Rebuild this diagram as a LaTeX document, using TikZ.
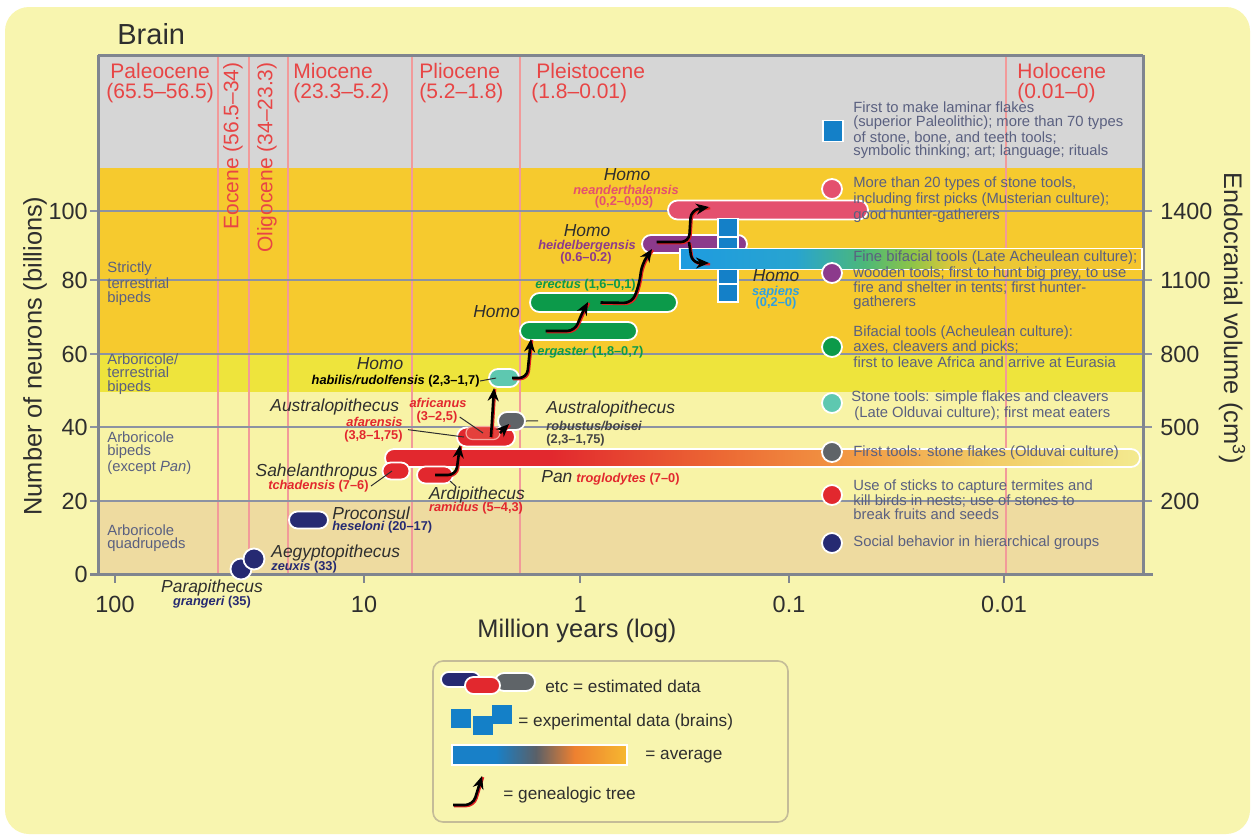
\documentclass[tikz,border=0pt]{standalone}
\usepackage{fontspec}
\setmainfont{Liberation Sans}
\usetikzlibrary{shapes.misc,arrows.meta}
\definecolor{panel}{HTML}{F8F5AF}
\definecolor{topgray}{HTML}{D6D6D6}
\definecolor{bandorange}{HTML}{F6CA2E}
\definecolor{bandyellow}{HTML}{EEE43C}
\definecolor{bandpale}{HTML}{F8F3A6}
\definecolor{bandtan}{HTML}{EEDBA0}
\definecolor{epochred}{HTML}{E84545}
\definecolor{epochline}{HTML}{F29A9A}
\definecolor{gridc}{HTML}{8C92A2}
\definecolor{axisc}{HTML}{80858F}
\definecolor{desctxt}{HTML}{5A6080}
\definecolor{cnavy}{HTML}{262A72}
\definecolor{cred}{HTML}{E2282E}
\definecolor{credlight}{HTML}{E4403C}
\definecolor{credline}{HTML}{F4A8A0}
\definecolor{cgray}{HTML}{5F6468}
\definecolor{cteal}{HTML}{5EC8B0}
\definecolor{cgreen}{HTML}{0C9A4A}
\definecolor{cpurple}{HTML}{8C3A8C}
\definecolor{cpink}{HTML}{E4506E}
\definecolor{cblue}{HTML}{1480C8}
\definecolor{csky}{HTML}{30A0E0}
\definecolor{txtdark}{HTML}{2E2E2E}
\definecolor{txtgray}{HTML}{444444}
\definecolor{shadowred}{HTML}{E02020}
\definecolor{legborder}{HTML}{C4BC98}
\definecolor{panA}{HTML}{E2282E}
\definecolor{panB}{HTML}{EC6A34}
\definecolor{panC}{HTML}{F29A44}
\definecolor{panD}{HTML}{F2CC66}
\definecolor{panE}{HTML}{F3EA90}
\definecolor{sapA}{HTML}{1E9BE0}
\definecolor{sapB}{HTML}{28A4D0}
\definecolor{sapC}{HTML}{4CB878}
\definecolor{sapD}{HTML}{8CC448}
\definecolor{sapE}{HTML}{E8C838}
\definecolor{sapF}{HTML}{F5C52E}
\definecolor{avgA}{HTML}{1880C8}
\definecolor{avgC}{HTML}{5A6068}
\definecolor{avgD}{HTML}{EE8030}
\definecolor{avgE}{HTML}{F6B830}
\pgfdeclarehorizontalshading{panshade}{100bp}{color(0bp)=(panA); color(25bp)=(panA); color(36bp)=(panA); color(47.5bp)=(panB); color(56bp)=(panC); color(65bp)=(panD); color(75bp)=(panE); color(100bp)=(panE)}
\pgfdeclarehorizontalshading{sapshade}{100bp}{color(0bp)=(sapA); color(25bp)=(sapA); color(37.5bp)=(sapB); color(45bp)=(sapC); color(50bp)=(sapD); color(55bp)=(sapE); color(75bp)=(sapF); color(100bp)=(sapF)}
\pgfdeclarehorizontalshading{avgshade}{100bp}{color(0bp)=(avgA); color(25bp)=(avgA); color(37.5bp)=(avgA); color(49bp)=(avgC); color(60bp)=(avgD); color(75bp)=(avgE); color(100bp)=(avgE)}
\newcommand\genpath[1]{\draw[genshadow] #1;\draw[genline] #1;}
\begin{document}
\begin{tikzpicture}[x=0.5pt,y=-0.5pt,
  capsule/.style={shape=rounded rectangle, draw=white, line width=0.9pt, inner sep=0pt},
  sq/.style={shape=rectangle, fill=cblue, draw=white, line width=0.7pt, inner sep=0pt, minimum width=10pt, minimum height=9pt},
  dot/.style={shape=circle, draw=white, line width=0.9pt, inner sep=0pt, minimum size=10pt},
  desc/.style={anchor=west, align=left, text=desctxt, font=\fontsize{7.4}{6.8}\selectfont, inner sep=0pt},
  epoch/.style={text=epochred, font=\fontsize{10.5}{10}\selectfont, align=left, anchor=north west, inner sep=0pt},
  ticklab/.style={text=txtdark, font=\fontsize{11.7}{12}\selectfont, inner sep=0pt},
  axtitle/.style={text=txtdark, font=\fontsize{12.7}{13}\selectfont, inner sep=0pt},
  genus/.style={font=\fontsize{8.7}{9}\selectfont\itshape, text=txtdark, inner sep=0pt},
  spec/.style={font=\fontsize{6.4}{6.5}\selectfont\bfseries, inner sep=0pt},
  lbl/.style={draw=txtdark, line width=0.5pt},
  legtxt/.style={text=txtdark, font=\fontsize{8.6}{9}\selectfont, anchor=west, inner sep=0pt},
  genshadow/.style={draw=shadowred, line width=1.1pt, rounded corners=4pt, transform canvas={xshift=0.6pt,yshift=-0.6pt}},
  genline/.style={draw=black, line width=1.3pt, rounded corners=4pt, -{Stealth[length=6.5pt,width=5.5pt]}},
]
\useasboundingbox (0,0) rectangle (1253,836);
\fill[white] (0,0) rectangle (1253,836);
\fill[panel, rounded corners=12pt] (5,7) rectangle (1250,834);

% bands
\fill[topgray] (98,55) rectangle (1143,168);
\fill[bandorange] (98,168) rectangle (1143,354);
\fill[bandyellow] (98,354) rectangle (1143,392);
\fill[bandpale] (98,392) rectangle (1143,501);
\fill[bandtan] (98,501) rectangle (1143,574);

% epoch boundaries
\foreach \x in {218,249,288,412,520,1006} \draw[epochline, line width=0.8pt] (\x,55) -- (\x,574);
% grid lines
\foreach \y in {211,280,354,427,501} \draw[gridc, line width=0.8pt] (90,\y) -- (1152,\y);
% axes
\draw[axisc, line width=1.5pt] (98,55) -- (1143,55);
\draw[axisc, line width=1.5pt] (98,55) -- (98,574);
\draw[axisc, line width=1.5pt] (1143,55) -- (1143,574);
\draw[axisc, line width=1.5pt] (90,574) -- (1153,574);
\foreach \x in {115,364,580,789,1004} \draw[axisc, line width=1pt] (\x,574) -- (\x,583);

% tick labels
\foreach \y/\t in {574/0,501/20,427/40,354/60,280/80,211/100}
  \node[ticklab, anchor=east] (yl\t) at (88,\y) {\t};
\foreach \y/\t in {501/200,427/500,354/800,280/1100,211/1400}
  \node[ticklab, anchor=west] (yr\t) at (1160,\y) {\t};
\foreach \x/\t/\n in {115/100/1,364/10/2,580/1/3,789/0.1/4,1004/0.01/5}
  \node[ticklab] (xl\n) at (\x,604) {\t};

% axis titles
\node[axtitle, rotate=90] (ytitle) at (35,356) {Number of neurons (billions)};
\node[axtitle] (xtitle) at (577,631) {Million years (log)};
\node[axtitle, rotate=-90] (rtitle) at (1232,318) {Endocranial volume (cm\textsuperscript{3})};
\node[anchor=base west, font=\fontsize{14.5}{16}\selectfont, text=txtdark, inner sep=0pt] (title) at (117,44) {Brain};

% epochs
\node[epoch, align=center] (paleo) at (106,63) {Paleocene\\(65.5–56.5)};
\node[epoch, rotate=90, anchor=east] (eoc) at (233,62) {Eocene (56.5–34)};
\node[epoch, rotate=90, anchor=east] (oli) at (267,62) {Oligocene (34–23.3)};
\node[epoch] (mio) at (293,63) {Miocene\\(23.3–5.2)};
\node[epoch] (plio) at (419,63) {Pliocene\\(5.2–1.8)};
\node[epoch] (pleis) at (531,63) {\hspace*{2.5pt}Pleistocene\\(1.8–0.01)};
\node[epoch] (holo) at (1017,63) {Holocene\\(0.01–0)};

% band labels
\node[desc] (b1) at (107,283.5) {Strictly\\terrestrial\\bipeds};
\node[desc] (b2) at (107,374) {Arboricole/\\terrestrial\\bipeds};
\node[desc] (b3) at (107,453) {Arboricole\\bipeds\\(except \textit{Pan})};
\node[desc] (b4) at (107,538) {Arboricole\\quadrupeds};

% ---- data capsules
\node[dot, fill=cnavy, minimum size=10.5pt] (para) at (241,569) {};
\node[dot, fill=cnavy, minimum size=10.5pt] (aegy) at (254,559) {};
\node[capsule, fill=cnavy, minimum width=19.5pt, minimum height=8.5pt] (procon) at (308.5,520) {};
\node[capsule, shading=panshade, minimum width=377.5pt, minimum height=9pt] (pan) at (762.5,458) {};
\node[capsule, fill=cred, minimum width=13.5pt, minimum height=8.5pt] (sahel) at (396,471) {};
\node[capsule, fill=cred, minimum width=18pt, minimum height=8.5pt] (ardi) at (435,475) {};
\node[capsule, fill=cred, minimum width=29pt, minimum height=9.5pt] (afar) at (486,437) {};
\node[capsule, fill=credlight, draw=credline, line width=0.6pt, minimum width=17pt, minimum height=6.5pt] (afri) at (483,433) {};
\node[capsule, fill=cgray, minimum width=13.5pt, minimum height=9pt] (robust) at (511.5,421) {};
\node[capsule, fill=cteal, minimum width=15pt, minimum height=9pt] (habil) at (504,378) {};
\node[capsule, fill=cgreen, minimum width=58.5pt, minimum height=9pt] (ergas) at (578.5,331) {};
\node[capsule, fill=cgreen, minimum width=73.5pt, minimum height=9.5pt] (erect) at (603.5,302.5) {};
\node[capsule, fill=cpink, minimum width=100pt, minimum height=9.5pt] (nean) at (768,210) {};
\node[capsule, fill=cpurple, minimum width=52.5pt, minimum height=9pt] (heid) at (694.5,244) {};
\node[sq] (s1) at (728,227.5) {};
\node[sq] (s2) at (728,246) {};
\node[sq] (s3) at (728,263) {};
\node[sq] (s4) at (728,278) {};
\node[sq] (s5) at (728,293) {};
\node[shape=rectangle, shading=sapshade, draw=white, line width=0.9pt, inner sep=0pt, minimum width=231pt, minimum height=10.5pt] (sapbar) at (911,259) {};

% ---- species labels
\node[genus] (parag) at (212,588) {Parapithecus};
\node[spec, text=cnavy] (paras) at (212,602) {\textit{grangeri} (35)};
\node[genus, anchor=west] (aegyg) at (271,553) {Aegyptopithecus};
\node[spec, text=cnavy, anchor=west] (aegys) at (271,567) {\textit{zeuxis} (33)};
\node[genus, anchor=west] (procg) at (332,513) {Proconsul};
\node[spec, text=cnavy, anchor=west] (procs) at (332,527) {\textit{heseloni} (20–17)};
\node[genus, anchor=east] (sahg) at (378,472) {Sahelanthropus};
\node[spec, text=cred, anchor=east] (sahs) at (369,486) {\textit{tchadensis} (7–6)};
\node[genus] (ardg) at (477,495) {Ardipithecus};
\node[spec, text=cred] (ards) at (476,508) {\textit{ramidus} (5–4,3)};
\node[genus, anchor=base west] (pang) at (541,482) {Pan};
\node[spec, text=cred, anchor=base west] (pans) at (576,482) {\textit{troglodytes} (7–0)};
\node[genus, anchor=west] (auslg) at (270,407) {Australopithecus};
\node[spec, text=cred] (afrs) at (438,403) {\textit{africanus}};
\node[spec, text=cred] (afrd) at (437,417) {(3–2,5)};
\node[spec, text=cred, anchor=east] (afas) at (403,422) {\textit{afarensis}};
\node[spec, text=cred, anchor=east] (afad) at (403,436) {(3,8–1,75)};
\node[genus, anchor=west] (ausrg) at (546,409) {Australopithecus};
\node[spec, text=txtgray, anchor=west] (robs) at (546,426) {\textit{robustus/boisei}};
\node[spec, text=txtgray, anchor=west] (robd) at (546,440) {(2,3–1,75)};
\node[genus] (habg) at (380,364) {Homo};
\node[spec, text=black, anchor=east] (habs) at (480,381) {\textit{habilis/rudolfensis} (2,3–1,7)};
\node[genus, anchor=west] (ereg) at (473,312) {Homo};
\node[spec, text=cgreen, anchor=west] (eres) at (535,285) {\textit{erectus} (1,6–0,1)};
\node[spec, text=cgreen, anchor=west] (ergs) at (537,352) {\textit{ergaster} (1,8–0,7)};
\node[genus] (heig) at (587,231) {Homo};
\node[spec, text=cpurple] (heis) at (587,246) {\textit{heidelbergensis}};
\node[spec, text=cpurple] (heidd) at (586,258) {(0.6–0.2)};
\node[genus] (neag) at (627,175) {Homo};
\node[spec, text=cpink] (neas) at (626,190) {\textit{neanderthalensis}};
\node[spec, text=cpink] (nead) at (624,202) {(0,2–0,03)};
\node[genus] (sapg) at (776,276) {Homo};
\node[spec, text=csky] (saps) at (776,292) {\textit{sapiens}};
\node[spec, text=csky] (sapd) at (776,303) {(0,2–0)};

% label leaders
\draw[lbl] (habs.east) -- ([xshift=4pt]habil.west);
\draw[lbl] ([xshift=1pt]afrd.east) -- (afri.center);
\draw[lbl] ([xshift=2.5pt]afad.north east) -- ([xshift=-11pt]afar.center);
\draw[lbl] (robust.east) -- ([xshift=-4pt]robs.north west);
\draw[lbl] ([xshift=1pt]sahs.east) -- ([xshift=-2pt]sahel.center);
\draw[lbl] ([xshift=7.5pt,yshift=-3pt]ardi.center) -- ([xshift=-10.5pt]ardg.north);

% genealogic tree
\coordinate (t1) at (460,445);
\coordinate (t2) at (494,388);
\coordinate (t3) at (509,424);
\coordinate (t4) at (531,339);
\coordinate (t5) at (588,302);
\coordinate (t6) at (652,249);
\coordinate (t7) at (709,207);
\coordinate (t8) at (709,263);
\coordinate (br) at (689,242);
\genpath{(ardi.center) -- (456,475) -- (t1)}
\genpath{([xshift=2.5pt]afar.center) -- (t2)}
\genpath{([xshift=7pt,yshift=2pt]afar.center) -- (t3)}
\genpath{([xshift=4pt]habil.center) -- (527,378) -- (529,358) -- (t4)}
\genpath{([xshift=-16.5pt]ergas.center) -- (575,331) -- (581,315) -- (t5)}
\genpath{([xshift=-1.5pt]erect.center) -- (632,303) -- (639,285) -- (642,264) -- (t6)}
\genpath{([xshift=-19pt,yshift=1pt]heid.center) -- (br) -- (691,210) -- (t7)}
\genpath{(br) -- (692,263) -- (t8)}

% ---- right-hand descriptions
\node[sq, minimum width=10pt, minimum height=10.5pt, line width=0.9pt] (m1) at (833,131) {};
\node[dot, fill=cpink] (m2) at (832,189) {};
\node[dot, fill=cpurple] (m3) at (832,273) {};
\node[dot, fill=cgreen] (m4) at (832,347) {};
\node[dot, fill=cteal] (m5) at (832,403) {};
\node[dot, fill=cgray] (m6) at (832,452) {};
\node[dot, fill=cred] (m7) at (832,495) {};
\node[dot, fill=cnavy] (m8) at (832,543) {};
\node[desc] (d1) at (853,130.5) {First to make laminar flakes\\(superior Paleolithic); more than 70 types\\of stone, bone, and teeth tools;\\symbolic thinking; art; language; rituals};
\node[desc] (d2) at (853,199.5) {More than 20 types of stone tools,\\including first picks (Musterian culture);\\good hunter-gatherers};
\node[desc] (d3) at (853,280) {Fine bifacial tools (Late Acheulean culture);\\wooden tools; first to hunt big prey, to use\\fire and shelter in tents; first hunter-\\gatherers};
\node[desc] (d4) at (853,346.5) {Bifacial tools (Acheulean culture):\\axes, cleavers and picks;\\first to leave Africa and arrive at Eurasia};
\node[desc] (d5) at (851,406) {Stone tools: simple flakes and cleavers\\\hspace*{1.5pt}(Late Olduvai culture); first meat eaters};
\node[desc] (d6) at (853,453) {First tools: stone flakes (Olduvai culture)};
\node[desc] (d7) at (853,499.5) {Use of sticks to capture termites and\\kill birds in nests; use of stones to\\break fruits and seeds};
\node[desc] (d8) at (853,543) {Social behavior in hierarchical groups};

% ---- legend
\node[shape=rectangle, rounded corners=5pt, draw=legborder, line width=0.8pt, fill=panel, inner sep=0pt, minimum width=177.5pt, minimum height=80.5pt] (legend) at (610.5,741.5) {};
\node[capsule, fill=cnavy, minimum width=19.5pt, minimum height=7.5pt] (lg1) at (460.5,679.5) {};
\node[capsule, fill=cgray, minimum width=20pt, minimum height=9pt] (lg3) at (515,682) {};
\node[capsule, fill=cred, minimum width=17.5pt, minimum height=8.5pt] (lg2) at (482.5,685.5) {};
\node[legtxt] (lt1) at (545,686) {etc = estimated data};
\node[sq, draw=none, minimum height=9.5pt] (ls1) at (461,718.5) {};
\node[sq, draw=none, minimum height=9.5pt] (ls2) at (482.5,725) {};
\node[sq, draw=none, minimum height=9.5pt] (ls3) at (501.5,714.5) {};
\node[legtxt] (lt2) at (518,722) {= experimental data (brains)};
\node[shape=rectangle, shading=avgshade, draw=white, line width=0.6pt, inner sep=0pt, minimum width=87.5pt, minimum height=10pt] (lavg) at (539.5,755) {};
\node[legtxt] (lt3) at (645,757) {= average};
\coordinate (lgs) at (453,805);
\coordinate (lge) at (482,776);
\genpath{(lgs) -- (473,805) -- (lge)}
\node[legtxt] (lt4) at (503,795) {= genealogic tree};
\end{tikzpicture}
\end{document}
